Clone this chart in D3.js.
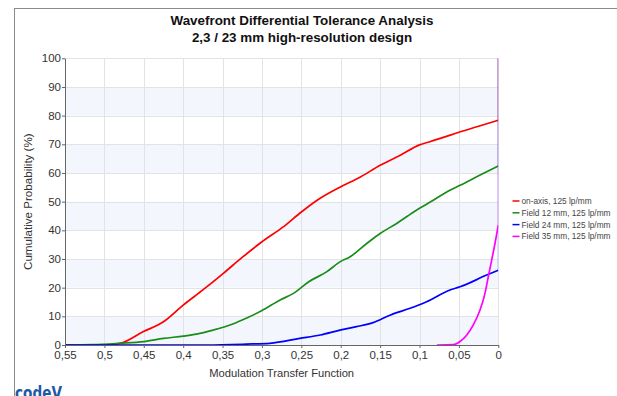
<!DOCTYPE html>
<html><head><meta charset="utf-8">
<script src="https://cdn.jsdelivr.net/npm/d3@7"></script>
<style>
html,body{margin:0;padding:0;background:#fff;}
svg{display:block;font-family:"Liberation Sans",Arial,sans-serif;}
</style></head>
<body>
<svg id="c" width="617" height="396"></svg>
<script>
// ---- data ----
const titleLines = ["Wavefront Differential Tolerance Analysis", "2,3 / 23 mm high-resolution design"];
const xTicks = [0.55,0.5,0.45,0.4,0.35,0.3,0.25,0.2,0.15,0.1,0.05,0];
const yTicks = [0,10,20,30,40,50,60,70,80,90,100];
const seriesNames = ["on-axis, 125 lp/mm","Field 12 mm, 125 lp/mm","Field 24 mm, 125 lp/mm","Field 35 mm, 125 lp/mm"];
const seriesColors = ["#ff0000","#1a8c1a","#0000ff","#ff00ff"];

const onAxisMTF  = [0.55,0.502,0.48,0.451,0.425,0.40,0.375,0.349,0.324,0.30,0.273,0.25,0.23,0.20,0.175,0.15,0.125,0.10,0.087,0.06,0.049,0.025,0];
const onAxisProb = [0,0,0.6,4.6,8.1,13.9,19.2,25,30.8,36,41.2,46.4,50.5,55.2,58.6,62.7,66.1,69.8,70.9,73.3,74.3,76.3,78.4];

const field12MTF  = [0.55,0.515,0.48,0.45,0.425,0.40,0.383,0.362,0.337,0.32,0.30,0.277,0.26,0.241,0.218,0.201,0.188,0.167,0.15,0.129,0.104,0.0825,0.0614,0.0486,0.025,0];
const field12Prob = [0,0.1,0.6,1.2,2.3,3.1,3.8,5.2,7.3,9.3,12.0,15.7,18,22,25.5,29,30.8,35.4,38.9,42.4,47,50.5,54,55.7,59,62.4];

const field24MTF  = [0.55,0.37,0.32,0.29,0.252,0.226,0.201,0.18,0.159,0.1375,0.112,0.091,0.0614,0.0486,0.0147,0];
const field24Prob = [0,0,0.3,0.6,2.3,3.5,5.2,6.4,7.8,10.4,12.8,15.1,19.2,20.3,24.4,26.1];

const field35MTF  = [0.078,0.057,0.0486,0.040,0.0317,0.0232,0.0169,0.0127,0.0084,0.0042,0];
const field35Prob = [0,0.1,1.2,3.5,7,12.2,18,23.8,29.6,35.4,41.8];

const seriesMTF  = [onAxisMTF, field12MTF, field24MTF, field35MTF];
const seriesProb = [onAxisProb, field12Prob, field24Prob, field35Prob];

// ---- layout ----
const svg = d3.select("#c");
const L = 65, R = 498.3, T = 58.3, B = 345;
const x = d3.scaleLinear().domain([0.55, 0]).range([L, R]);
const y = d3.scaleLinear().domain([0, 100]).range([B, T]);

// frame (top & left)
svg.append("line").attr("x1",14).attr("x2",617).attr("y1",8.5).attr("y2",8.5).attr("stroke","#8a8a8a").attr("stroke-width",1);
svg.append("line").attr("x1",14.5).attr("x2",14.5).attr("y1",8).attr("y2",396).attr("stroke","#8a8a8a").attr("stroke-width",1);

// title
svg.selectAll("text.title").data(titleLines).enter().append("text")
  .attr("x",302).attr("y",(d,i)=>25+i*17).attr("text-anchor","middle")
  .attr("font-weight","bold").attr("font-size",13.4).attr("fill","#111").text(d=>d);

// bands
const bands = d3.range(0,100,20);
svg.selectAll("rect.band").data(bands).enter().append("rect")
  .attr("x",L).attr("width",R-L).attr("y",d=>y(d+10)).attr("height",d=>y(d)-y(d+10))
  .attr("fill","#f3f7fd");

// grid
svg.selectAll("line.hg").data(yTicks).enter().append("line")
  .attr("x1",L).attr("x2",R).attr("y1",d=>Math.round(y(d))+0.5).attr("y2",d=>Math.round(y(d))+0.5)
  .attr("stroke","#e3e3e6");
svg.selectAll("line.vg").data(xTicks).enter().append("line")
  .attr("y1",T).attr("y2",B).attr("x1",d=>Math.round(x(d))+0.5).attr("x2",d=>Math.round(x(d))+0.5)
  .attr("stroke","#e3e3e6");

// clip
svg.append("clipPath").attr("id","pc").append("rect").attr("x",L).attr("y",T).attr("width",R-L).attr("height",B-T);

const line = d3.line().x(d=>x(d[0])).y(d=>y(d[1])).curve(d3.curveMonotoneX);
const g = svg.append("g").attr("clip-path","url(#pc)");
// vertical tails at MTF 0
seriesMTF.forEach((m,i)=>{
  const last = [m[m.length-1], seriesProb[i][m.length-1]];
  g.append("path").attr("d", d3.line().x(d=>x(d[0])).y(d=>y(d[1]))([last,[0,100]]))
   .attr("fill","none").attr("stroke",seriesColors[i]).attr("stroke-opacity",0.18).attr("stroke-width",2);
});
seriesMTF.forEach((m,i)=>{
  const pts = m.map((v,j)=>[v, seriesProb[i][j]]);
  g.append("path").attr("d",line(pts)).attr("fill","none")
   .attr("stroke",seriesColors[i]).attr("stroke-width",1.7).attr("stroke-linejoin","round");
});

// axes
const xa = svg.append("g").attr("transform",`translate(0,${B})`)
  .call(d3.axisBottom(x).tickValues(xTicks).tickSize(3).tickSizeOuter(0).tickFormat(d=>String(d).replace(".",",")));
const ya = svg.append("g").attr("transform",`translate(${L},0)`)
  .call(d3.axisLeft(y).tickValues(yTicks).tickSize(3).tickSizeOuter(0));
[xa,ya].forEach(a=>{
  a.select(".domain").attr("stroke","#666");
  a.selectAll(".tick line").attr("stroke","#666");
  a.selectAll(".tick text").attr("font-size",11.5).attr("fill","#333").attr("font-family","Liberation Sans, Arial, sans-serif");
});
xa.selectAll(".tick text").attr("dy","0.85em").attr("y",4);
ya.selectAll(".tick text").attr("x",-4).attr("dy","0.3em");

// axis titles
svg.append("text").attr("x",(L+R)/2).attr("y",377).attr("text-anchor","middle")
  .attr("font-size",11.2).attr("fill","#333").text("Modulation Transfer Function");
svg.append("text").attr("transform",`translate(32,${(T+B)/2}) rotate(-90)`).attr("text-anchor","middle")
  .attr("font-size",11.6).attr("fill","#333").text("Cumulative Probability (%)");

// legend
const lg = svg.append("g");
seriesNames.forEach((n,i)=>{
  const yy = 201 + i*11.8;
  lg.append("line").attr("x1",512.5).attr("x2",519.5).attr("y1",yy).attr("y2",yy).attr("stroke",seriesColors[i]).attr("stroke-width",1.5);
  lg.append("text").attr("x",521.5).attr("y",yy+3).attr("font-size",8.3).attr("fill","#444").text(n);
});

// logo
svg.append("text").attr("x",15).attr("y",399).attr("font-size",17).attr("font-weight","bold")
  .attr("font-family","DejaVu Sans, sans-serif").attr("fill","#1d5aa6").attr("textLength",47).attr("lengthAdjust","spacingAndGlyphs").text("codeV");
</script>
</body></html>
